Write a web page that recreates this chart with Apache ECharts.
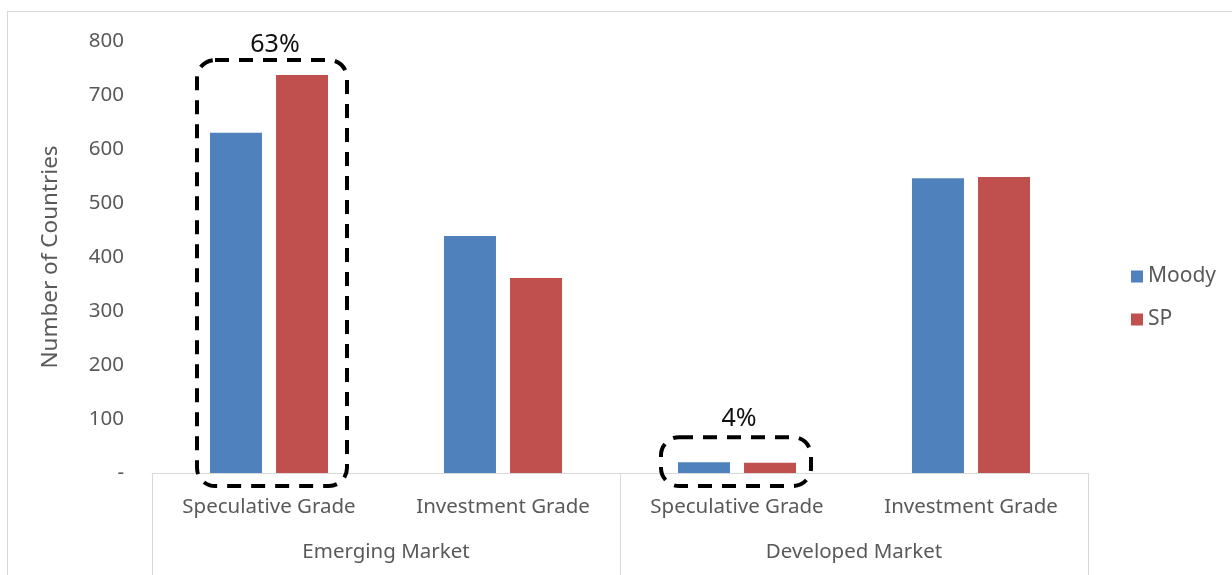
<!DOCTYPE html>
<html>
<head>
<meta charset="utf-8">
<script src="https://cdn.jsdelivr.net/npm/echarts@6/dist/echarts.min.js"></script>
<style>
  html, body { margin: 0; padding: 0; background: #fff; }
  #frame { position: absolute; left: 7px; top: 11px; width: 1240px; height: 600px; border: 1px solid #d9d9d9; }
  #chart { position: absolute; left: 0; top: 0; width: 1232px; height: 575px; }
</style>
</head>
<body>
<div id="frame"></div>
<div id="chart"></div>
<script>
var grades = ['Speculative Grade', 'Investment Grade', 'Speculative Grade', 'Investment Grade'];
var markets = ['Emerging Market', 'Developed Market'];
var moody = [630, 439, 20, 546];
var sp = [737, 361, 19, 548];
var yTicks = [0, 100, 200, 300, 400, 500, 600, 700, 800];
var shares = ['63%', '4%'];   // annotation text over the dashed boxes
var boxed = [0, 2];           // category index each box surrounds

var font = 'Noto Sans, sans-serif';
var grey = '#595959';

var myChart = echarts.init(document.getElementById('chart'));
var option = {
    animation: false,
    grid: { left: 152, right: 144, top: 41, bottom: 102 },
    legend: {
        orient: 'vertical',
        left: 1126,
        top: 261,
        itemWidth: 12,
        itemHeight: 12,
        itemGap: 22,
        icon: 'rect',
        textStyle: { fontFamily: font, fontSize: 21, color: grey },
        data: ['Moody', 'SP']
    },
    xAxis: [
        {
            type: 'category',
            data: grades,
            axisLine: { lineStyle: { color: '#d9d9d9', width: 1 } },
            axisTick: { show: false },
            axisLabel: { fontFamily: font, fontSize: 20.5, color: grey, margin: 24 }
        },
        {
            type: 'category',
            data: markets,
            position: 'bottom',
            offset: 0,
            axisLine: { show: false },
            axisTick: { show: true, length: 102, lineStyle: { color: '#d9d9d9' } },
            axisLabel: { fontFamily: font, fontSize: 20.5, color: grey, margin: 69 }
        }
    ],
    yAxis: {
        type: 'value',
        min: yTicks[0],
        max: yTicks[yTicks.length - 1],
        interval: 100,
        name: 'Number of Countries',
        nameLocation: 'middle',
        nameGap: 90,
        nameTextStyle: { fontFamily: font, fontSize: 22.5, color: grey },
        axisLine: { show: false },
        axisTick: { show: false },
        splitLine: { show: false },
        axisLabel: {
            fontFamily: font, fontSize: 20.5, color: grey, margin: 28,
            formatter: function (v) { return v === 0 ? '-' : String(v); }
        }
    },
    series: [
        { name: 'Moody', type: 'bar', data: moody, barWidth: 52, barGap: '27%', itemStyle: { color: '#4f81bd' } },
        { name: 'SP', type: 'bar', data: sp, barWidth: 52, barGap: '27%', itemStyle: { color: '#c0504d' } }
    ]
};
myChart.setOption(option);

// dashed rounded boxes with their percentage labels
var base = myChart.convertToPixel({ yAxisIndex: 0 }, 0);
var graphics = [];
boxed.forEach(function (ci, k) {
    var cx = myChart.convertToPixel({ xAxisIndex: 0 }, ci) + (k === 0 ? 3 : -1);
    var topVal = Math.max(moody[ci], sp[ci]);
    var top = myChart.convertToPixel({ yAxisIndex: 0 }, topVal) - (k === 0 ? 15 : 25);
    var bottom = base + 13;
    graphics.push({
        type: 'rect',
        shape: { x: cx - 75, y: top, width: 150, height: bottom - top, r: 18 },
        style: { fill: 'none', stroke: '#000', lineWidth: 4, lineDash: [14, 10] },
        z: 10
    });
    graphics.push({
        type: 'text',
        x: cx + 3,
        y: top - (k === 0 ? 3 : 6),
        style: { text: shares[k], fontFamily: font, fontSize: 25, fill: '#111', align: 'center', verticalAlign: 'bottom' },
        z: 10
    });
});
myChart.setOption({ graphic: graphics });
</script>
</body>
</html>
